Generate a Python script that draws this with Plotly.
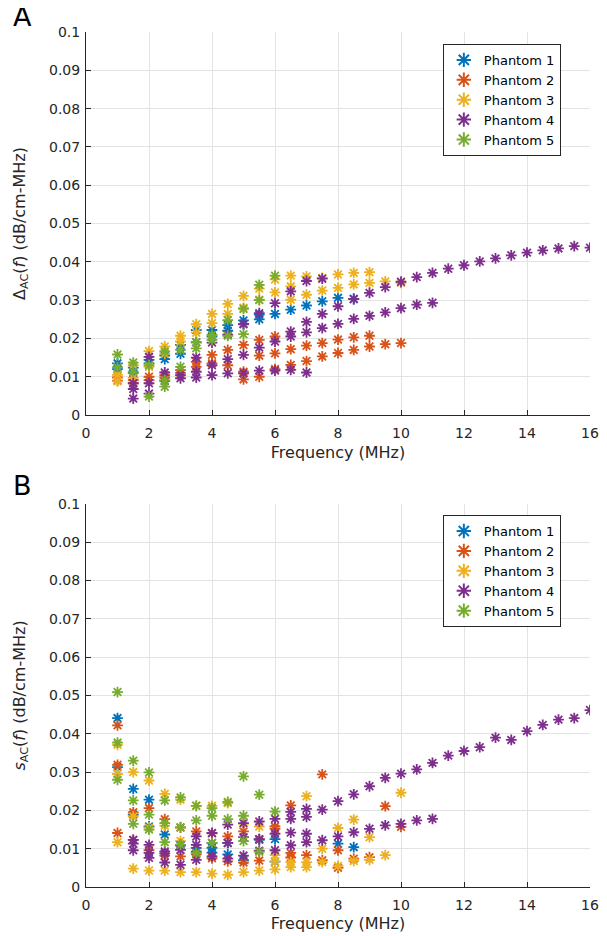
import plotly.graph_objects as go
from plotly.subplots import make_subplots

names = ["Phantom 1", "Phantom 2", "Phantom 3", "Phantom 4", "Phantom 5"]
colors = ["#0072BD", "#D95319", "#EDB120", "#7E2F8E", "#77AC30"]

x_ticks = [0, 2, 4, 6, 8, 10, 12, 14, 16]
y_ticks = [0, 0.01, 0.02, 0.03, 0.04, 0.05, 0.06, 0.07, 0.08, 0.09, 0.1]
y_ticktext = ["0", "0.01", "0.02", "0.03", "0.04", "0.05", "0.06", "0.07", "0.08", "0.09", "0.1"]

# ---- Panel A: Delta_AC(f) ----
a_p1_f = [1, 1, 1.5, 1.5, 2, 2, 2.5, 2.5, 3, 3, 3.5, 3.5, 4, 4, 4.5, 4.5, 5, 5, 5.5, 5.5, 6, 6.5, 7, 7.5, 8, 8.5]
a_p1_v = [0.0135, 0.012, 0.0124, 0.011, 0.0144, 0.0135, 0.0146, 0.0155, 0.0183, 0.016, 0.0222, 0.019, 0.0222, 0.0205,
          0.0235, 0.022, 0.0247, 0.0238, 0.025, 0.0262, 0.0264, 0.0275, 0.0286, 0.0297, 0.0306, 0.0303]

a_p2_f = [1, 1, 1.5, 1.5, 2, 2, 2.5, 2.5, 3, 3, 3.5, 3.5, 4, 4, 4.5, 4.5, 5, 5, 5, 5.5, 5.5, 5.5, 6, 6, 6,
          6.5, 6.5, 7, 7, 7.5, 7.5, 8, 8, 8.5, 8.5, 9, 9, 9.5, 10]
a_p2_v = [0.0098, 0.009, 0.0091, 0.0083, 0.01, 0.0091, 0.0104, 0.0098, 0.0117, 0.011, 0.0139, 0.0126, 0.0157, 0.0135,
          0.017, 0.013, 0.0183, 0.0113, 0.0093, 0.0196, 0.0155, 0.01, 0.0205, 0.0161, 0.012,
          0.0172, 0.0131, 0.0181, 0.0141, 0.0188, 0.0153, 0.0197, 0.0162, 0.0203, 0.017, 0.0207, 0.0179, 0.0185, 0.0188]

a_p3_f = [1, 1, 1.5, 1.5, 2, 2, 2.5, 2.5, 3, 3, 3.5, 3.5, 4, 4, 4.5, 4.5, 5, 5, 5.5, 5.5, 6, 6, 6.5, 6.5, 6.5,
          7, 7, 7.5, 7.5, 8, 8, 8.5, 8.5, 9, 9, 9.5, 10]
a_p3_v = [0.0105, 0.0088, 0.013, 0.0097, 0.0167, 0.0126, 0.0179, 0.016, 0.0207, 0.0192, 0.0237, 0.0215, 0.0264, 0.024,
          0.029, 0.0264, 0.0311, 0.028, 0.033, 0.0301, 0.0354, 0.032, 0.0364, 0.0336, 0.0301,
          0.0362, 0.0314, 0.0358, 0.0325, 0.0367, 0.0332, 0.0371, 0.0341, 0.0373, 0.0345, 0.0349, 0.0345]

a_p4_f = [1.5, 1.5, 1.5, 2, 2, 2, 2.5, 2.5, 3, 3, 3.5, 3.5, 3.5, 4, 4, 4, 4.5, 4.5, 4.5, 5, 5, 5, 5.5, 5.5, 5.5,
          6, 6, 6, 6.5, 6.5, 6.5, 6.5, 7, 7, 7, 7, 7.5, 7.5, 7.5, 8, 8, 8.5, 8.5, 9, 9, 9.5, 9.5, 10, 10,
          10.5, 10.5, 11, 11, 11.5, 12, 12.5, 13, 13.5, 14, 14.5, 15, 15.5, 16]
a_p4_v = [0.0083, 0.0068, 0.0043, 0.0152, 0.0083, 0.0056, 0.0111, 0.0089, 0.0104, 0.0096, 0.015, 0.0113, 0.0098,
          0.0189, 0.013, 0.0104, 0.021, 0.0146, 0.0109, 0.0237, 0.0157, 0.0109, 0.0266, 0.0176, 0.0116,
          0.0292, 0.0192, 0.0116, 0.0323, 0.0218, 0.0205, 0.0118, 0.035, 0.0243, 0.0216, 0.0111,
          0.0356, 0.0264, 0.0227, 0.0284, 0.0238, 0.0303, 0.0251, 0.0319, 0.0259, 0.0334, 0.0268, 0.0348, 0.0279,
          0.036, 0.0288, 0.0371, 0.0293, 0.0382, 0.0391, 0.0401, 0.0409, 0.0417, 0.0424, 0.043, 0.0435, 0.0441, 0.0437]

a_p5_f = [1, 1, 1.5, 1.5, 2, 2, 2.5, 2.5, 2.5, 3, 3, 3.5, 3.5, 4, 4, 4.5, 4.5, 5, 5, 5.5, 5.5, 6]
a_p5_v = [0.0158, 0.0125, 0.0137, 0.0113, 0.013, 0.0048, 0.0166, 0.0091, 0.0074, 0.017, 0.0126, 0.019, 0.0174,
          0.0209, 0.0196, 0.0248, 0.0207, 0.0277, 0.0211, 0.034, 0.03, 0.0364]

# ---- Panel B: s_AC(f) ----
b_p1_f = [1, 1, 1.5, 1.5, 2, 2, 2.5, 3, 3.5, 3.5, 4, 4, 4.5, 4.5, 5, 5.5, 6, 6, 8, 8.5]
b_p1_v = [0.0441, 0.0313, 0.0256, 0.0189, 0.0228, 0.0158, 0.0137, 0.0108, 0.0102, 0.0092, 0.0102, 0.009,
          0.0085, 0.0115, 0.007, 0.0123, 0.0125, 0.0066, 0.0113, 0.0104]

b_p2_f = [1, 1, 1, 1.5, 1.5, 2, 2, 2.5, 2.5, 3, 3, 3.5, 3.5, 4, 4, 4.5, 4.5, 5, 5, 5.5, 5.5, 6, 6,
          6.5, 6.5, 6.5, 7, 7.5, 7.5, 8, 8, 8.5, 9, 9.5, 10]
b_p2_v = [0.0422, 0.0319, 0.0141, 0.0195, 0.0123, 0.0206, 0.0096, 0.0177, 0.0082, 0.0155, 0.008, 0.0145, 0.0085,
          0.014, 0.0075, 0.0132, 0.0067, 0.0145, 0.0064, 0.0069, 0.0125, 0.0158, 0.0152,
          0.0213, 0.0089, 0.0077, 0.0083, 0.0294, 0.007, 0.0096, 0.005, 0.0074, 0.0078, 0.0211, 0.0157]

b_p3_f = [1, 1, 1, 1.5, 1.5, 1.5, 2, 2, 2, 2.5, 2.5, 2.5, 3, 3, 3, 3.5, 3.5, 4, 4, 4.5, 4.5, 5, 5, 5.5, 5.5,
          6, 6, 6, 6.5, 6.5, 7, 7, 7, 7.5, 7.5, 8, 8, 8.5, 8.5, 9, 9, 9.5, 10]
b_p3_v = [0.0371, 0.0295, 0.0117, 0.030, 0.0184, 0.0048, 0.0278, 0.0155, 0.0043, 0.0243, 0.016, 0.0043,
          0.0228, 0.012, 0.0039, 0.0212, 0.0039, 0.0212, 0.0035, 0.0219, 0.0032, 0.0165, 0.0039, 0.0158, 0.0043,
          0.0083, 0.0067, 0.0046, 0.0065, 0.0052, 0.0237, 0.0065, 0.0052, 0.01, 0.0065, 0.0154, 0.0055,
          0.0176, 0.0068, 0.013, 0.0071, 0.0083, 0.0246]

b_p4_f = [1.5, 1.5, 1.5, 2, 2, 2, 2.5, 2.5, 2.5, 3, 3, 3, 3.5, 3.5, 3.5, 4, 4, 4, 4.5, 4.5, 4.5, 5, 5, 5,
          5.5, 5.5, 5.5, 6, 6, 6, 6.5, 6.5, 6.5, 6.5, 7, 7, 7, 7, 7.5, 7.5, 8, 8, 8.5, 8.5, 9, 9, 9.5, 9.5,
          10, 10, 10.5, 10.5, 11, 11, 11.5, 12, 12.5, 13, 13.5, 14, 14.5, 15, 15.5, 16]
b_p4_v = [0.0123, 0.0113, 0.0096, 0.011, 0.0089, 0.0076, 0.0093, 0.0088, 0.0064, 0.011, 0.0097, 0.0058,
          0.0132, 0.011, 0.0071, 0.0141, 0.0115, 0.008, 0.0163, 0.0115, 0.0074, 0.0167, 0.013, 0.0082,
          0.0171, 0.0125, 0.0095, 0.0178, 0.0139, 0.0096, 0.0196, 0.0178, 0.0142, 0.0109, 0.0204, 0.0183,
          0.0139, 0.0117, 0.0202, 0.0122, 0.0224, 0.0132, 0.0242, 0.0143, 0.0263, 0.0152, 0.0285, 0.0161,
          0.0296, 0.0165, 0.0307, 0.0174, 0.0324, 0.0178, 0.0343, 0.0355, 0.0365, 0.039, 0.0384, 0.0407,
          0.0423, 0.0437, 0.0441, 0.0462]

b_p5_f = [1, 1, 1, 1.5, 1.5, 1.5, 2, 2, 2, 2.5, 2.5, 2.5, 3, 3, 3, 3.5, 3.5, 3.5, 4, 4, 4, 4.5, 4.5,
          5, 5, 5, 5.5, 5.5, 6]
b_p5_v = [0.0509, 0.0377, 0.028, 0.033, 0.0226, 0.0165, 0.0299, 0.0189, 0.015, 0.0226, 0.0167, 0.0117,
          0.0234, 0.0156, 0.011, 0.0212, 0.0174, 0.0089, 0.0206, 0.0186, 0.0115, 0.0222, 0.0177,
          0.0289, 0.0186, 0.012, 0.0241, 0.0092, 0.0197]

panel_a = [(a_p1_f, a_p1_v), (a_p2_f, a_p2_v), (a_p3_f, a_p3_v), (a_p4_f, a_p4_v), (a_p5_f, a_p5_v)]
panel_b = [(b_p1_f, b_p1_v), (b_p2_f, b_p2_v), (b_p3_f, b_p3_v), (b_p4_f, b_p4_v), (b_p5_f, b_p5_v)]

FONT = "DejaVu Sans"
TXT = "#262626"

fig = make_subplots(rows=2, cols=1, vertical_spacing=0.104)

for row, (data, leg) in enumerate([(panel_a, "legend"), (panel_b, "legend2")], start=1):
    for (f, v), name, col in zip(data, names, colors):
        fig.add_trace(go.Scatter(
            x=f, y=v, mode="markers", name=name, legend=leg,
            marker=dict(symbol="asterisk-open", size=9, color=col,
                        line=dict(color=col, width=1.8)),
        ), row=row, col=1)

axis_common = dict(showline=True, linecolor=TXT, linewidth=1, mirror=False,
                   ticks="inside", ticklen=5, tickcolor=TXT, automargin=False,
                   showgrid=True, gridcolor="#e3e3e3", gridwidth=1, zeroline=False,
                   tickfont=dict(family=FONT, size=14, color=TXT))

for row in (1, 2):
    fig.update_xaxes(range=[0, 16], tickvals=x_ticks, ticklabelstandoff=5, **axis_common,
                     title=dict(text="Frequency (MHz)", font=dict(family=FONT, size=16, color=TXT), standoff=6),
                     row=row, col=1)
    fig.update_yaxes(range=[0, 0.1], tickvals=y_ticks, ticktext=y_ticktext, ticklabelstandoff=2,
                     **axis_common, row=row, col=1)

fig.update_yaxes(title=dict(text="Δ<sub>AC</sub>(<i>f</i>) (dB/cm-MHz)",
                            font=dict(family=FONT, size=16, color=TXT), standoff=19), row=1, col=1)
fig.update_yaxes(title=dict(text="<i>s</i><sub>AC</sub>(<i>f</i>) (dB/cm-MHz)",
                            font=dict(family=FONT, size=16, color=TXT), standoff=19), row=2, col=1)

legend_style = dict(bgcolor="white", bordercolor=TXT, borderwidth=1,
                    font=dict(family=FONT, size=13, color="#000000"),
                    xanchor="left", yanchor="top", itemsizing="constant", tracegroupgap=0,
                    entrywidth=98)

# page body adds an 8px offset, so the figure is 8px smaller on each axis
fig.update_layout(
    width=599, height=928,
    margin=dict(l=78, r=17, t=24, b=49, autoexpand=False),
    plot_bgcolor="white", paper_bgcolor="white",
    font=dict(family=FONT, color=TXT),
    legend=dict(x=0.708, y=0.986, **legend_style),
    legend2=dict(x=0.708, y=0.435, **legend_style),
    annotations=[
        dict(text="A", x=-0.149, y=1.018, xref="paper", yref="paper", showarrow=False,
             xanchor="left", yanchor="middle", font=dict(family=FONT, size=27, color="#000000")),
        dict(text="B", x=-0.149, y=0.49, xref="paper", yref="paper", showarrow=False,
             xanchor="left", yanchor="top", font=dict(family=FONT, size=27, color="#000000")),
    ],
)

fig.write_html("out.html")
